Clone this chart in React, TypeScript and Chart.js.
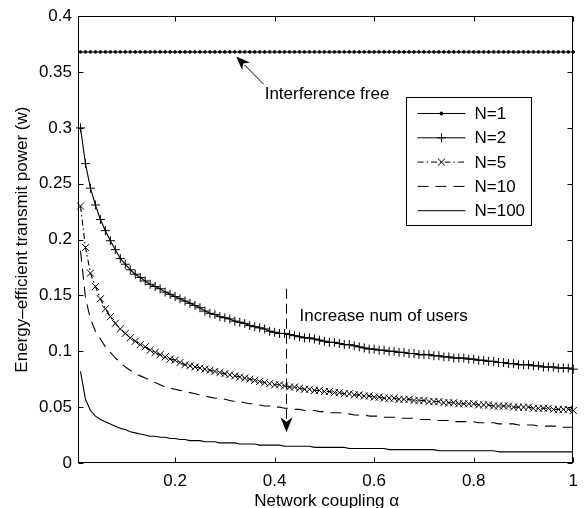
import React, { useEffect, useRef } from "react";
import { Chart, registerables } from "chart.js";

Chart.register(...registerables);

// ---------- data ----------
const alphaValues = [
  0.01, 0.02, 0.03, 0.04, 0.05, 0.06, 0.07, 0.08, 0.09, 0.1,
  0.11, 0.12, 0.13, 0.14, 0.15, 0.16, 0.17, 0.18, 0.19, 0.2,
  0.21, 0.22, 0.23, 0.24, 0.25, 0.26, 0.27, 0.28, 0.29, 0.3,
  0.31, 0.32, 0.33, 0.34, 0.35, 0.36, 0.37, 0.38, 0.39, 0.4,
  0.41, 0.42, 0.43, 0.44, 0.45, 0.46, 0.47, 0.48, 0.49, 0.5,
  0.51, 0.52, 0.53, 0.54, 0.55, 0.56, 0.57, 0.58, 0.59, 0.6,
  0.61, 0.62, 0.63, 0.64, 0.65, 0.66, 0.67, 0.68, 0.69, 0.7,
  0.71, 0.72, 0.73, 0.74, 0.75, 0.76, 0.77, 0.78, 0.79, 0.8,
  0.81, 0.82, 0.83, 0.84, 0.85, 0.86, 0.87, 0.88, 0.89, 0.9,
  0.91, 0.92, 0.93, 0.94, 0.95, 0.96, 0.97, 0.98, 0.99, 1.0,
];

const powerN1 = [
  0.368, 0.368, 0.368, 0.368, 0.368, 0.368, 0.368, 0.368, 0.368, 0.368,
  0.368, 0.368, 0.368, 0.368, 0.368, 0.368, 0.368, 0.368, 0.368, 0.368,
  0.368, 0.368, 0.368, 0.368, 0.368, 0.368, 0.368, 0.368, 0.368, 0.368,
  0.368, 0.368, 0.368, 0.368, 0.368, 0.368, 0.368, 0.368, 0.368, 0.368,
  0.368, 0.368, 0.368, 0.368, 0.368, 0.368, 0.368, 0.368, 0.368, 0.368,
  0.368, 0.368, 0.368, 0.368, 0.368, 0.368, 0.368, 0.368, 0.368, 0.368,
  0.368, 0.368, 0.368, 0.368, 0.368, 0.368, 0.368, 0.368, 0.368, 0.368,
  0.368, 0.368, 0.368, 0.368, 0.368, 0.368, 0.368, 0.368, 0.368, 0.368,
  0.368, 0.368, 0.368, 0.368, 0.368, 0.368, 0.368, 0.368, 0.368, 0.368,
  0.368, 0.368, 0.368, 0.368, 0.368, 0.368, 0.368, 0.368, 0.368, 0.368,
];

const powerN2 = [
  0.300, 0.268, 0.246, 0.231, 0.218, 0.208, 0.199, 0.191, 0.183, 0.178,
  0.173, 0.169, 0.166, 0.163, 0.160, 0.158, 0.156, 0.153, 0.151, 0.149,
  0.147, 0.145, 0.143, 0.141, 0.139, 0.136, 0.134, 0.133, 0.131, 0.130,
  0.129, 0.127, 0.126, 0.125, 0.123, 0.122, 0.121, 0.120, 0.118, 0.117,
  0.116, 0.116, 0.115, 0.114, 0.113, 0.112, 0.112, 0.111, 0.110, 0.109,
  0.108, 0.108, 0.107, 0.106, 0.106, 0.105, 0.104, 0.103, 0.102, 0.102,
  0.101, 0.101, 0.100, 0.100, 0.099, 0.099, 0.098, 0.098, 0.097, 0.097,
  0.097, 0.096, 0.096, 0.095, 0.095, 0.094, 0.094, 0.094, 0.093, 0.093,
  0.092, 0.092, 0.091, 0.091, 0.090, 0.090, 0.089, 0.089, 0.088, 0.088,
  0.088, 0.087, 0.087, 0.086, 0.086, 0.086, 0.085, 0.085, 0.085, 0.084,
];

const powerN5 = [
  0.230, 0.193, 0.170, 0.158, 0.147, 0.138, 0.131, 0.125, 0.120, 0.116,
  0.112, 0.109, 0.106, 0.104, 0.101, 0.099, 0.097, 0.095, 0.093, 0.092,
  0.090, 0.088, 0.087, 0.086, 0.085, 0.084, 0.083, 0.082, 0.081, 0.080,
  0.079, 0.078, 0.077, 0.076, 0.075, 0.074, 0.073, 0.072, 0.071, 0.070,
  0.070, 0.069, 0.068, 0.068, 0.067, 0.066, 0.066, 0.065, 0.065, 0.064,
  0.064, 0.063, 0.063, 0.062, 0.062, 0.061, 0.061, 0.060, 0.060, 0.059,
  0.059, 0.058, 0.058, 0.058, 0.057, 0.057, 0.057, 0.056, 0.056, 0.056,
  0.055, 0.055, 0.055, 0.054, 0.054, 0.054, 0.053, 0.053, 0.053, 0.053,
  0.052, 0.052, 0.052, 0.051, 0.051, 0.051, 0.051, 0.050, 0.050, 0.050,
  0.050, 0.049, 0.049, 0.049, 0.049, 0.048, 0.048, 0.048, 0.048, 0.047,
];

const powerN10 = [
  0.190, 0.148, 0.129, 0.118, 0.111, 0.104, 0.099, 0.094, 0.090, 0.086,
  0.083, 0.080, 0.078, 0.076, 0.074, 0.072, 0.070, 0.068, 0.067, 0.066,
  0.065, 0.064, 0.063, 0.062, 0.061, 0.060, 0.059, 0.058, 0.058, 0.057,
  0.056, 0.055, 0.055, 0.054, 0.053, 0.053, 0.052, 0.051, 0.051, 0.050,
  0.050, 0.049, 0.049, 0.048, 0.048, 0.047, 0.047, 0.047, 0.046, 0.046,
  0.045, 0.045, 0.045, 0.044, 0.044, 0.043, 0.043, 0.043, 0.042, 0.042,
  0.042, 0.041, 0.041, 0.041, 0.040, 0.040, 0.040, 0.040, 0.039, 0.039,
  0.039, 0.038, 0.038, 0.038, 0.038, 0.037, 0.037, 0.037, 0.037, 0.037,
  0.036, 0.036, 0.036, 0.036, 0.035, 0.035, 0.035, 0.035, 0.034, 0.034,
  0.034, 0.034, 0.033, 0.033, 0.033, 0.033, 0.033, 0.032, 0.032, 0.032,
];

const powerN100 = [
  0.082, 0.057, 0.047, 0.042, 0.039, 0.037, 0.035, 0.033, 0.031, 0.030,
  0.028, 0.027, 0.026, 0.025, 0.024, 0.024, 0.023, 0.023, 0.022, 0.022,
  0.021, 0.021, 0.020, 0.020, 0.020, 0.019, 0.019, 0.019, 0.018, 0.018,
  0.018, 0.018, 0.017, 0.017, 0.017, 0.017, 0.016, 0.016, 0.016, 0.016,
  0.016, 0.015, 0.015, 0.015, 0.015, 0.015, 0.015, 0.014, 0.014, 0.014,
  0.014, 0.014, 0.014, 0.014, 0.013, 0.013, 0.013, 0.013, 0.013, 0.013,
  0.013, 0.013, 0.012, 0.012, 0.012, 0.012, 0.012, 0.012, 0.012, 0.012,
  0.012, 0.012, 0.011, 0.011, 0.011, 0.011, 0.011, 0.011, 0.011, 0.011,
  0.011, 0.011, 0.011, 0.011, 0.010, 0.010, 0.010, 0.010, 0.010, 0.010,
  0.010, 0.010, 0.010, 0.010, 0.010, 0.010, 0.010, 0.010, 0.010, 0.010,
];

const seriesLabels = ["N=1", "N=2", "N=5", "N=10", "N=100"];

const xTickValues = [0.2, 0.4, 0.6, 0.8, 1];
const xTickLabels = ["0.2", "0.4", "0.6", "0.8", "1"];
const yTickValues = [0, 0.05, 0.1, 0.15, 0.2, 0.25, 0.3, 0.35, 0.4];
const yTickLabels = ["0", "0.05", "0.1", "0.15", "0.2", "0.25", "0.3", "0.35", "0.4"];

const xAxisTitle = "Network coupling \u03b1";
const yAxisTitle = "Energy\u2013efficient transmit power (w)";

const noteInterference = { text: "Interference free", x: 0.38, y: 0.330 };
const arrowInterference = { fromX: 0.378, fromY: 0.339, toX: 0.323, toY: 0.364 };
const noteUsers = { text: "Increase num of users", x: 0.45, y: 0.1316 };
const arrowUsers = { x: 0.422, fromY: 0.156, toY: 0.0276 };

// ---------- styling ----------
const FONT = '"Liberation Sans", Arial, Helvetica, sans-serif';
const FS = 17;

function pts(ys: number[]) {
  return ys.map((y, i) => ({ x: alphaValues[i], y }));
}

function drawArrowHead(ctx: CanvasRenderingContext2D, tipX: number, tipY: number, fromX: number, fromY: number, len: number, half: number) {
  const ang = Math.atan2(tipY - fromY, tipX - fromX);
  const cos = Math.cos(ang), sin = Math.sin(ang);
  const bx = tipX - len * cos, by = tipY - len * sin;
  const nx = tipX - len * 0.7 * cos, ny = tipY - len * 0.7 * sin;
  ctx.beginPath();
  ctx.moveTo(tipX, tipY);
  ctx.lineTo(bx - half * sin, by + half * cos);
  ctx.lineTo(nx, ny);
  ctx.lineTo(bx + half * sin, by - half * cos);
  ctx.closePath();
  ctx.fill();
}

const decorPlugin = {
  id: "decor",
  afterDatasetsDraw(chart: any) {
    const ctx: CanvasRenderingContext2D = chart.ctx;
    const { left, right, top, bottom } = chart.chartArea;
    const xs = chart.scales.x, ys = chart.scales.y;
    ctx.save();
    ctx.strokeStyle = "#000";
    ctx.fillStyle = "#000";
    ctx.lineWidth = 1;
    ctx.setLineDash([]);
    const L = Math.round(left) + 0.5, R = Math.round(right) - 0.5;
    const T = Math.round(top) + 0.5, B = Math.round(bottom) - 0.5;
    // box
    ctx.strokeRect(L, T, R - L, B - T);
    // inward ticks
    const tl = 5;
    ctx.beginPath();
    yTickValues.forEach((v) => {
      const y = Math.round(ys.getPixelForValue(v)) + 0.5;
      ctx.moveTo(L, y); ctx.lineTo(L + tl, y);
      ctx.moveTo(R, y); ctx.lineTo(R - tl, y);
    });
    xTickValues.forEach((v) => {
      const x = Math.round(xs.getPixelForValue(v)) + 0.5;
      ctx.moveTo(x, B); ctx.lineTo(x, B - tl);
      ctx.moveTo(x, T); ctx.lineTo(x, T + tl);
    });
    ctx.stroke();

    // annotations
    ctx.font = `${FS}px ${FONT}`;
    ctx.textBaseline = "middle";
    ctx.textAlign = "left";
    ctx.fillText(noteInterference.text, xs.getPixelForValue(noteInterference.x), ys.getPixelForValue(noteInterference.y));
    ctx.fillText(noteUsers.text, xs.getPixelForValue(noteUsers.x), ys.getPixelForValue(noteUsers.y));

    // arrow 1
    const a1x = xs.getPixelForValue(arrowInterference.fromX), a1y = ys.getPixelForValue(arrowInterference.fromY);
    const t1x = xs.getPixelForValue(arrowInterference.toX), t1y = ys.getPixelForValue(arrowInterference.toY);
    ctx.beginPath();
    ctx.moveTo(a1x, a1y);
    ctx.lineTo(t1x + (a1x - t1x) * 0.3, t1y + (a1y - t1y) * 0.3);
    ctx.stroke();
    drawArrowHead(ctx, t1x, t1y, a1x, a1y, 14, 5.5);

    // arrow 2 (dashed)
    const ax = Math.round(xs.getPixelForValue(arrowUsers.x)) + 0.5;
    const ay0 = ys.getPixelForValue(arrowUsers.fromY), ay1 = ys.getPixelForValue(arrowUsers.toY);
    ctx.setLineDash([10, 5]);
    ctx.beginPath();
    ctx.moveTo(ax, ay0);
    ctx.lineTo(ax, ay1 - 8);
    ctx.stroke();
    ctx.setLineDash([]);
    drawArrowHead(ctx, ax, ay1, ax, ay0, 15, 6);

    // legend
    const bx0 = Math.round(right - 42) - 125 + 0.5, by0 = Math.round(top + 81) + 0.5;
    const bw = 125, bh = 128;
    ctx.fillStyle = "#fff";
    ctx.fillRect(bx0, by0, bw, bh);
    ctx.strokeStyle = "#000";
    ctx.strokeRect(bx0, by0, bw, bh);
    ctx.fillStyle = "#000";
    chart.data.datasets.forEach((ds: any, i: number) => {
      const ry = by0 + 16 + i * 24.3;
      const lx0 = bx0 + 11, lx1 = bx0 + 59;
      ctx.setLineDash(ds.borderDash || []);
      ctx.lineWidth = 1;
      ctx.beginPath();
      ctx.moveTo(lx0, ry); ctx.lineTo(lx1, ry);
      ctx.stroke();
      ctx.setLineDash([]);
      if (ds.pointRadius > 0) {
        const mx = (lx0 + lx1) / 2;
        const r = ds.pointRadius;
        if (ds.pointStyle === "circle") {
          ctx.beginPath(); ctx.arc(mx, ry, r + 0.5, 0, Math.PI * 2); ctx.fill();
        } else if (ds.pointStyle === "cross") {
          ctx.beginPath(); ctx.moveTo(mx - r, ry); ctx.lineTo(mx + r, ry); ctx.moveTo(mx, ry - r); ctx.lineTo(mx, ry + r); ctx.stroke();
        } else if (ds.pointStyle === "crossRot") {
          const d = r * 0.707;
          ctx.beginPath(); ctx.moveTo(mx - d, ry - d); ctx.lineTo(mx + d, ry + d); ctx.moveTo(mx - d, ry + d); ctx.lineTo(mx + d, ry - d); ctx.stroke();
        }
      }
      ctx.font = `${FS}px ${FONT}`;
      ctx.textAlign = "left";
      ctx.textBaseline = "middle";
      ctx.fillText(ds.label, bx0 + 68, ry + 1);
    });

    // axis titles
    ctx.font = `${FS}px ${FONT}`;
    ctx.textAlign = "center";
    ctx.textBaseline = "middle";
    ctx.fillText(xAxisTitle, (left + right) / 2 + 1, bottom + 38);
    ctx.save();
    ctx.translate(22, (top + bottom) / 2);
    ctx.rotate(-Math.PI / 2);
    ctx.fillText(yAxisTitle, 0, 0);
    ctx.restore();
    ctx.restore();
  },
};

export default function App() {
  const ref = useRef<HTMLCanvasElement | null>(null);
  useEffect(() => {
    if (!ref.current) return;
    const base = { borderColor: "#000", backgroundColor: "#000", borderWidth: 1.1, fill: false, tension: 0, clip: false as any };
    const chart = new Chart(ref.current, {
      type: "line",
      data: {
        datasets: [
          { ...base, label: seriesLabels[0], data: pts(powerN1), pointStyle: "circle", pointRadius: 1.4, pointBorderWidth: 0.8, pointBackgroundColor: "#000", pointBorderColor: "#000" },
          { ...base, label: seriesLabels[1], data: pts(powerN2), pointStyle: "cross", pointRadius: 4.5, pointBorderWidth: 1, pointBorderColor: "#000" },
          { ...base, label: seriesLabels[2], data: pts(powerN5), pointStyle: "crossRot", pointRadius: 5, pointBorderWidth: 1, pointBorderColor: "#000", borderDash: [6, 3, 1.5, 3] },
          { ...base, label: seriesLabels[3], data: pts(powerN10), pointRadius: 0, borderDash: [11, 7] },
          { ...base, label: seriesLabels[4], data: pts(powerN100), pointRadius: 0 },
        ] as any,
      },
      plugins: [decorPlugin],
      options: {
        responsive: false,
        animation: false,
        devicePixelRatio: 1,
        layout: { padding: { top: 13, right: 11, left: 0, bottom: 0 } },
        plugins: { legend: { display: false }, tooltip: { enabled: false }, title: { display: false } },
        elements: { line: { borderJoinStyle: "round" } },
        scales: {
          x: {
            type: "linear",
            min: 0.005,
            max: 1,
            grid: { display: false, drawTicks: false },
            border: { display: false },
            afterBuildTicks: (s: any) => { s.ticks = xTickValues.map((v) => ({ value: v })); },
            afterFit: (s: any) => { s.height = 45; },
            ticks: {
              padding: 8,
              color: "#000",
              font: { family: FONT, size: FS },
              maxRotation: 0,
              autoSkip: false,
              callback: (v: any) => { const i = xTickValues.indexOf(Number(v)); return i >= 0 ? xTickLabels[i] : ""; },
            },
          },
          y: {
            type: "linear",
            min: 0,
            max: 0.4,
            grid: { display: false, drawTicks: false },
            border: { display: false },
            afterBuildTicks: (s: any) => { s.ticks = yTickValues.map((v) => ({ value: v })); },
            afterFit: (s: any) => { s.width = 78; },
            ticks: {
              padding: 6,
              color: "#000",
              font: { family: FONT, size: FS },
              autoSkip: false,
              callback: (v: any) => { const i = yTickValues.indexOf(Number(v)); return i >= 0 ? yTickLabels[i] : ""; },
            },
          },
        },
      } as any,
    });
    return () => chart.destroy();
  }, []);
  return (
    <div style={{ position: "fixed", left: 0, top: 0, width: 586, height: 508, background: "#fff" }}>
      <canvas ref={ref} width={586} height={508} style={{ width: 586, height: 508, display: "block" }} />
    </div>
  );
}
